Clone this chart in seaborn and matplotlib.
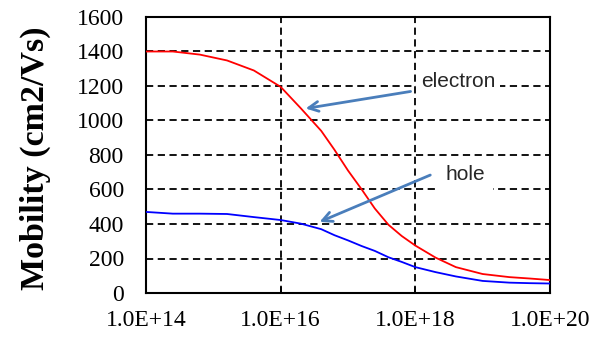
import numpy as np
import pandas as pd
import matplotlib
matplotlib.use("Agg")
import matplotlib.pyplot as plt
import seaborn as sns

# Doping concentration (cm^-3)
concentration = [1.0e14, 2.5e14, 6.3e14, 1.6e15, 4.0e15, 1.0e16, 2.0e16, 4.0e16,
                 6.3e16, 1.0e17, 1.6e17, 2.5e17, 4.0e17, 6.3e17, 1.0e18, 2.0e18,
                 4.0e18, 1.0e19, 2.5e19, 5.0e19, 1.0e20]
electron_mobility = [1400, 1400, 1382, 1348, 1290, 1195, 1070, 940, 830, 710, 600,
                     490, 395, 330, 275, 205, 150, 110, 92, 84, 75]
hole_mobility = [470, 460, 460, 458, 440, 423, 402, 370, 335, 305, 272, 244, 207,
                 180, 150, 121, 96, 70, 60, 57, 55]
series_names = ["electron", "hole"]
series_colors = ["#ff0000", "#0000ff"]
x_ticks = [1e14, 1e16, 1e18, 1e20]
x_tick_labels = ["1.0E+14", "1.0E+16", "1.0E+18", "1.0E+20"]
y_ticks = [0, 200, 400, 600, 800, 1000, 1200, 1400, 1600]
y_label = "Mobility (cm2/Vs)"

df = pd.DataFrame({
    "N": concentration * 2,
    "mobility": electron_mobility + hole_mobility,
    "carrier": ["electron"] * len(concentration) + ["hole"] * len(concentration),
})

sns.set_style("white")
serif = ["Liberation Serif", "DejaVu Serif"]
plt.rcParams["font.family"] = serif

fig = plt.figure(figsize=(6.05, 3.5), dpi=100)
ax = fig.add_axes([146 / 605, 57 / 350, 404 / 605, 276 / 350])

sns.lineplot(data=df, x="N", y="mobility", hue="carrier",
             palette=dict(zip(series_names, series_colors)),
             linewidth=1.3, legend=False, ax=ax, zorder=3)

ax.set_xscale("log")
ax.set_xlim(1e14, 1e20)
ax.set_ylim(0, 1600)
ax.set_xticks(x_ticks)
ax.set_xticklabels(x_tick_labels, fontfamily=serif)
ax.xaxis.set_minor_locator(matplotlib.ticker.NullLocator())
ax.set_yticks(y_ticks)
ax.set_yticklabels([str(v) for v in y_ticks], fontfamily=serif)

ax.grid(True, which="major", color="black", linestyle=(0, (4, 2.5)), linewidth=1.3)
ax.set_axisbelow(True)

for s in ax.spines.values():
    s.set_color("black")
    s.set_linewidth(1.5)

ax.tick_params(axis="x", direction="in", length=4, width=1.3, pad=12,
               labelsize=17, colors="black", bottom=True)
ax.tick_params(axis="y", direction="in", length=0, pad=16, labelsize=17,
               colors="black", left=True)
for lab in ax.get_xticklabels() + ax.get_yticklabels():
    lab.set_fontfamily(serif)

ax.set_xlabel("")
ax.set_ylabel(y_label, fontsize=24.5, fontweight="bold", color="black",
              fontfamily=serif)
ax.yaxis.set_label_coords(-0.235, 0.49)

arrow_color = "#4a7ebb"
ax.annotate("", xy=(10 ** 16.33, 1067), xytext=(10 ** 17.97, 1171),
            arrowprops=dict(arrowstyle="->,head_length=0.7,head_width=0.35",
                            color=arrow_color, lw=2), zorder=5)
ax.annotate("", xy=(10 ** 16.54, 406), xytext=(10 ** 18.26, 690),
            arrowprops=dict(arrowstyle="->,head_length=0.7,head_width=0.35",
                            color=arrow_color, lw=2), zorder=5)

text_font = ["Liberation Sans", "DejaVu Sans"]
ax.text(10 ** 18.08, 1225, "electron", fontsize=15, family=text_font,
        ha="left", va="center", zorder=4,
        bbox=dict(boxstyle="square,pad=0.25", fc="white", ec="none"))
ax.text(10 ** 18.45, 685, "hole", fontsize=15, family=text_font,
        ha="left", va="center", zorder=4,
        bbox=dict(boxstyle="square,pad=0.35", fc="white", ec="none"))

fig.savefig("out.png", dpi=100)
